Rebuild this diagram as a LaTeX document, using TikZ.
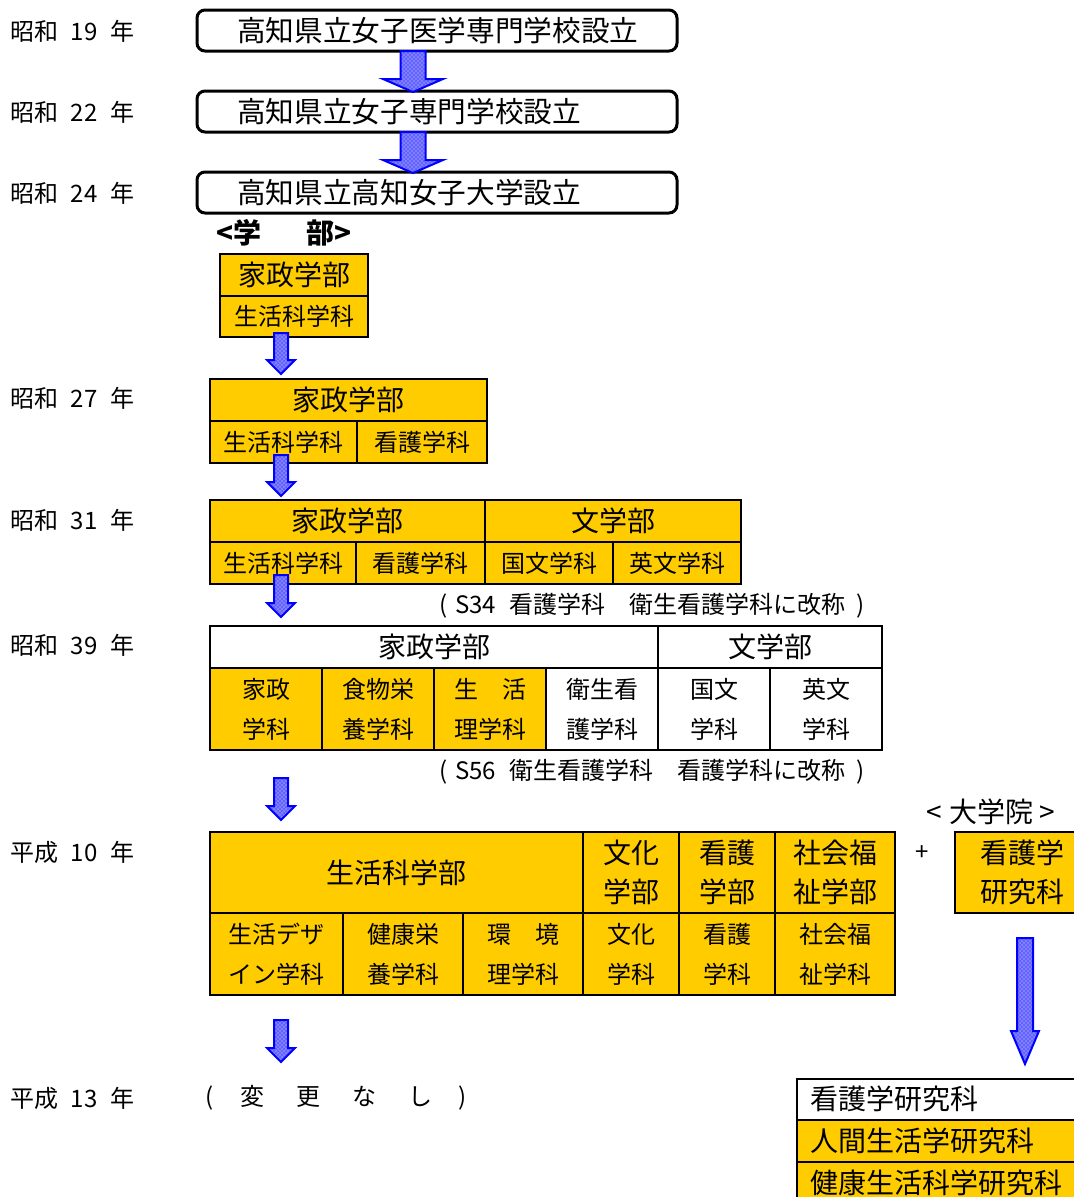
\documentclass[tikz,border=0pt]{standalone}
\usepackage{fontspec}
\setmainfont{Noto Sans CJK JP}
\usetikzlibrary{patterns}
\definecolor{gold}{RGB}{255,204,0}
\newcommand{\fbig}{\fontsize{21pt}{29.5pt}\selectfont}
\newcommand{\ftop}{\fontsize{21.5pt}{29.5pt}\selectfont}
\newcommand{\fmid}{\fontsize{18pt}{30pt}\selectfont}
\newcommand{\ysp}{\hspace{9.5pt}}
\tikzset{
 cellbox/.style={draw=black, line width=1.5pt, inner sep=0pt, outer sep=0pt, align=center},
 topbox/.style={draw=black, line width=2.25pt, rounded corners=6pt, minimum width=360pt, minimum height=30.75pt, inner sep=0pt},
 fatarrow/.style={draw=blue, line width=1.5pt, preaction={fill=blue!50}, pattern=crosshatch dots, pattern color=blue},
 yearlbl/.style={anchor=west, inner sep=0pt, font=\fmid},
 plain/.style={inner sep=0pt},
}
\newcommand{\cell}[8]{%
 \node[cellbox, fill=#6, font=#7, minimum width={(#4-#2)*0.75pt}, minimum height={(#5-#3)*0.75pt}] (#1) at ({(#2+#4)/2},{(#3+#5)/2}) {#8};}
\newcommand{\fatarr}[6]{%
 \draw[fatarrow] ({#1-#4},#2) -- ({#1+#4},#2) -- ({#1+#4},{#3-#6}) -- ({#1+#5},{#3-#6}) -- (#1,#3) -- ({#1-#5},{#3-#6}) -- ({#1-#4},{#3-#6}) -- cycle;}
\begin{document}
\begin{tikzpicture}[x=0.75pt,y=-0.75pt]
\useasboundingbox[fill=white] (0,0) rectangle (1074,1197);

% year labels
\node[yearlbl] (y19) at (10,31) {昭和\ysp 19\ysp 年};
\node[yearlbl] (y22) at (10,112) {昭和\ysp 22\ysp 年};
\node[yearlbl] (y24) at (10,193) {昭和\ysp 24\ysp 年};
\node[yearlbl] (y27) at (10,398) {昭和\ysp 27\ysp 年};
\node[yearlbl] (y31) at (10,520) {昭和\ysp 31\ysp 年};
\node[yearlbl] (y39) at (10,645) {昭和\ysp 39\ysp 年};
\node[yearlbl] (h10) at (10,852) {平成\ysp 10\ysp 年};
\node[yearlbl] (h13) at (10,1098) {平成\ysp 13\ysp 年};

% top boxes
\node[topbox] (b1) at (437,30.5) {};
\node[topbox] (b2) at (437,111.5) {};
\node[topbox] (b3) at (437,192.5) {};
\node[plain, anchor=west, font=\ftop] (b1t) at (237,30.5) {高知県立女子医学専門学校設立};
\node[plain, anchor=west, font=\ftop] (b2t) at (237,111.5) {高知県立女子専門学校設立};
\node[plain, anchor=west, font=\ftop] (b3t) at (237,192.5) {高知県立高知女子大学設立};

\node[plain, font=\fbig\bfseries] (gakubu) at (284,233) {<学\hspace{34pt}部>};

% table 1 (S24)
\cell{t1h}{220}{254}{368}{296}{gold}{\fbig}{家政学部}
\cell{t1a}{220}{296}{368}{337}{gold}{\fmid}{生活科学科}

% table 2 (S27)
\cell{t2h}{210}{379}{487}{421}{gold}{\fbig}{家政学部}
\cell{t2a}{210}{421}{357}{463}{gold}{\fmid}{生活科学科}
\cell{t2b}{357}{421}{487}{463}{gold}{\fmid}{看護学科}

% table 3 (S31)
\cell{t3h}{210}{500}{485}{542}{gold}{\fbig}{家政学部}
\cell{t3g}{485}{500}{741}{542}{gold}{\fbig}{文学部}
\cell{t3a}{210}{542}{356}{584}{gold}{\fmid}{生活科学科}
\cell{t3b}{356}{542}{485}{584}{gold}{\fmid}{看護学科}
\cell{t3c}{485}{542}{613}{584}{gold}{\fmid}{国文学科}
\cell{t3d}{613}{542}{741}{584}{gold}{\fmid}{英文学科}

\node[plain, anchor=west, font=\fmid] (n34) at (439,606) {(\hspace{6pt}S34\hspace{10pt}看護学科\hspace{18pt}衛生看護学科に改称\hspace{8pt})};

% table 4 (S39)
\cell{t4h}{210}{626}{658}{668}{white}{\fbig}{家政学部}
\cell{t4g}{658}{626}{882}{668}{white}{\fbig}{文学部}
\cell{t4a}{210}{668}{322}{750}{gold}{\fmid}{家政\\学科}
\cell{t4b}{322}{668}{434}{750}{gold}{\fmid}{食物栄\\養学科}
\cell{t4c}{434}{668}{546}{750}{gold}{\fmid}{生\hspace{18pt}活\\理学科}
\cell{t4d}{546}{668}{658}{750}{white}{\fmid}{衛生看\\護学科}
\cell{t4e}{658}{668}{770}{750}{white}{\fmid}{国文\\学科}
\cell{t4f}{770}{668}{882}{750}{white}{\fmid}{英文\\学科}

\node[plain, anchor=west, font=\fmid] (n56) at (439,772) {(\hspace{6pt}S56\hspace{10pt}衛生看護学科\hspace{18pt}看護学科に改称\hspace{8pt})};

% table 5 (H10)
\cell{t5h}{210}{832}{583}{913}{gold}{\fbig}{生活科学部}
\cell{t5i}{583}{832}{679}{913}{gold}{\fbig}{文化\\学部}
\cell{t5j}{679}{832}{775}{913}{gold}{\fbig}{看護\\学部}
\cell{t5k}{775}{832}{895}{913}{gold}{\fbig}{社会福\\祉学部}
\cell{t5a}{210}{913}{343}{995}{gold}{\fmid}{生活デザ\\イン学科}
\cell{t5b}{343}{913}{463}{995}{gold}{\fmid}{健康栄\\養学科}
\cell{t5c}{463}{913}{583}{995}{gold}{\fmid}{環\hspace{18pt}境\\理学科}
\cell{t5d}{583}{913}{679}{995}{gold}{\fmid}{文化\\学科}
\cell{t5e}{679}{913}{775}{995}{gold}{\fmid}{看護\\学科}
\cell{t5f}{775}{913}{895}{995}{gold}{\fmid}{社会福\\祉学科}

\node[plain, font=\fmid] (plus) at (922,853) {+};
\node[plain, font=\fbig] (daigakuin) at (991,812) {<\hspace{5pt}大学院\hspace{5pt}>};
\cell{g0}{955}{832}{1090}{913}{gold}{\fbig}{看護学\\研究科}

\node[plain, anchor=west, font=\fmid] (nochange) at (205,1098) {(\hspace{20pt}変\hspace{24pt}更\hspace{24pt}な\hspace{24pt}し\hspace{20pt})};

% graduate table (H13)
\cell{g1}{797}{1079}{1090}{1120}{white}{\fbig}{}
\cell{g2}{797}{1120}{1090}{1162}{gold}{\fbig}{}
\cell{g3}{797}{1162}{1090}{1204}{gold}{\fbig}{}
\node[plain, anchor=west, font=\fbig] (g1t) at (810,1099) {看護学研究科};
\node[plain, anchor=west, font=\fbig] (g2t) at (810,1141) {人間生活学研究科};
\node[plain, anchor=west, font=\fbig] (g3t) at (810,1183) {健康生活科学研究科};

% arrows
\fatarr{413}{51}{92}{12.5}{30}{13}
\fatarr{413}{132}{173}{12.5}{30}{13}
\fatarr{281}{333}{374}{7}{14}{14}
\fatarr{281}{455}{496}{7}{14}{14}
\fatarr{281}{575}{617}{7}{14}{14}
\fatarr{281}{778}{820}{7}{14}{14}
\fatarr{281}{1020}{1062}{7}{14}{14}
\fatarr{1025}{938}{1064}{8}{14}{33}
\end{tikzpicture}
\end{document}
